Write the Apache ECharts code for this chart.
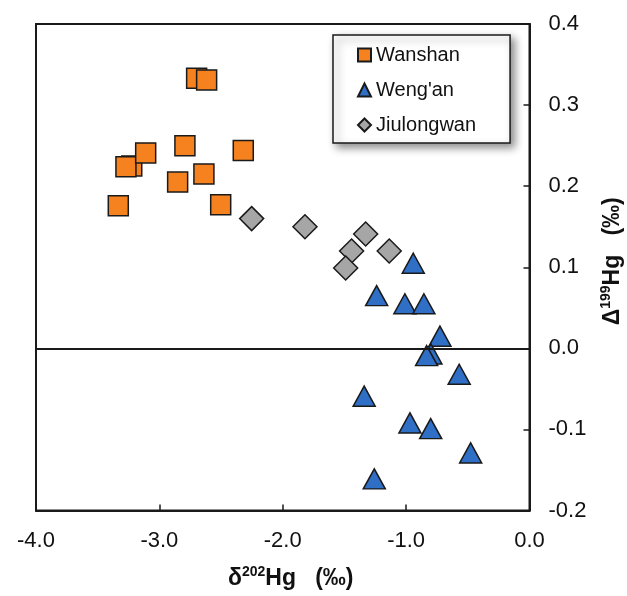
<!DOCTYPE html>
<html>
<meta charset="UTF-8">
<head>
    <title>Hg isotopes</title>
    <script src="https://cdn.jsdelivr.net/npm/echarts@6/dist/echarts.min.js"></script>
    <style>
        html, body { margin: 0; padding: 0; background: #fff; }
    </style>
</head>
<body>
<div id="main" style="width:627px;height:596px"></div>
<script type="text/javascript">
    // d202Hg / D199Hg values
    var wanshanX = [-3.333, -2.852, -2.639, -3.224, -3.271, -3.111, -2.793, -2.320, -2.698, -2.617, -2.503];
    var wanshanY = [0.176, 0.205, 0.215, 0.225, 0.224, 0.241, 0.250, 0.244, 0.333, 0.331, 0.177];

    var wenganX = [-0.942, -1.239, -1.010, -0.856, -0.726, -0.799, -0.834, -0.570, -1.340, -0.969, -0.801, -0.477, -1.258];
    var wenganY = [0.105, 0.065, 0.055, 0.055, 0.015, -0.007, -0.009, -0.032, -0.059, -0.092, -0.099, -0.129, -0.161];

    var jiulongX = [-2.252, -1.820, -1.328, -1.442, -1.137, -1.490];
    var jiulongY = [0.160, 0.150, 0.141, 0.120, 0.120, 0.099];

    var xTicks = [-4, -3, -2, -1, 0];
    var yTicks = [-0.2, -0.1, 0.0, 0.1, 0.2, 0.3, 0.4];

    function pairs(xs, ys) {
        var out = [];
        for (var i = 0; i < xs.length; i++) out.push([xs[i], ys[i]]);
        return out;
    }

    var font = "'Liberation Sans', Arial, sans-serif";
    var edge = '#1a1a1a';

    var nameRich = {
        b: { fontFamily: font, fontWeight: 'bold', fontSize: 23, color: '#111', lineHeight: 27 },
        sup: { fontFamily: font, fontWeight: 'bold', fontSize: 14, color: '#111', verticalAlign: 'top', lineHeight: 15 }
    };

    var myChart = echarts.init(document.getElementById('main'));

    var option = {
        animation: false,
        backgroundColor: '#fff',
        grid: {
            left: 36, right: 97.5, top: 24, bottom: 85.5,
            containLabel: false, outerBoundsMode: 'none',
            show: true, borderColor: edge, borderWidth: 2
        },
        legend: {
            orient: 'vertical',
            left: 333, top: 35,
            padding: [10, 34, 8, 24],
            itemWidth: 13, itemHeight: 13, itemGap: 15,
            backgroundColor: '#fff',
            borderColor: edge, borderWidth: 1.5, borderRadius: 0,
            shadowBlur: 8, shadowColor: 'rgba(0,0,0,0.45)', shadowOffsetX: 4, shadowOffsetY: 4,
            textStyle: { fontFamily: font, fontSize: 20, color: '#111' },
            data: [
                { name: 'Wanshan', icon: 'rect' },
                { name: "Weng'an", icon: 'triangle' },
                { name: 'Jiulongwan', icon: 'diamond' }
            ]
        },
        xAxis: {
            type: 'value',
            min: xTicks[0], max: xTicks[xTicks.length - 1], interval: 1,
            name: '{b|δ}{sup|202}{b|Hg   (‰)}',
            nameLocation: 'middle', nameGap: 55,
            nameTextStyle: { padding: [0, 0, 0, 16], rich: nameRich },
            axisLine: { show: true, onZero: false, lineStyle: { color: edge, width: 2 } },
            axisTick: { show: true, inside: true, length: 6, lineStyle: { color: edge, width: 1.5 } },
            axisLabel: {
                margin: 19, fontFamily: font, fontSize: 22, color: '#111',
                formatter: function (v) { return v.toFixed(1); }
            },
            splitLine: { show: false }
        },
        yAxis: {
            type: 'value', position: 'right',
            min: yTicks[0], max: yTicks[yTicks.length - 1], interval: 0.1,
            name: '{b|Δ}{sup|199}{b|Hg   (‰)}',
            nameLocation: 'middle', nameRotate: 90, nameGap: 70,
            nameTextStyle: { padding: [0, 0, 0, 12], rich: nameRich },
            axisLine: { show: true, onZero: false, lineStyle: { color: edge, width: 2 } },
            axisTick: { show: true, inside: true, length: 6, lineStyle: { color: edge, width: 1.5 } },
            axisLabel: {
                margin: 19, fontFamily: font, fontSize: 22, color: '#111',
                formatter: function (v) { return v.toFixed(1); }
            },
            splitLine: { show: false }
        },
        series: [
            {
                name: 'Wanshan', type: 'scatter', symbol: 'rect', symbolSize: 20,
                itemStyle: { color: '#F5821F', borderColor: edge, borderWidth: 1.5, opacity: 1 },
                data: pairs(wanshanX, wanshanY),
                markLine: {
                    silent: true, symbol: 'none', label: { show: false },
                    lineStyle: { color: edge, width: 2, type: 'solid' },
                    data: [{ yAxis: 0 }]
                },
                z: 3
            },
            {
                name: "Weng'an", type: 'scatter', symbol: 'triangle', symbolSize: [22, 20],
                itemStyle: { color: '#2F6FC6', borderColor: edge, borderWidth: 1.5, opacity: 1 },
                data: pairs(wenganX, wenganY),
                z: 4
            },
            {
                name: 'Jiulongwan', type: 'scatter', symbol: 'diamond', symbolSize: 24,
                itemStyle: { color: '#A6A6A6', borderColor: edge, borderWidth: 1.5, opacity: 1 },
                data: pairs(jiulongX, jiulongY),
                z: 4
            }
        ]
    };

    myChart.setOption(option);
</script>
</body>
</html>
